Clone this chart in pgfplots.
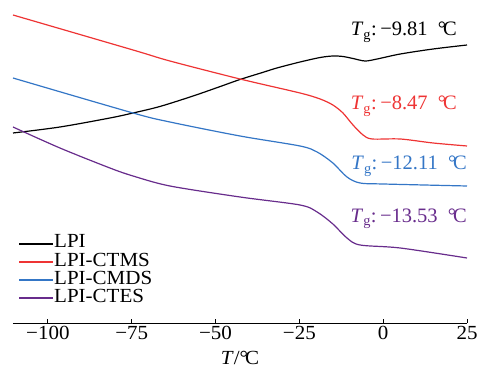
\documentclass[border=0pt]{standalone}
\usepackage{fontspec}
\setmainfont[FakeStretch=1.05]{Liberation Serif}
\newfontfamily\annfont{Liberation Serif}
\usepackage{pgfplots}
\pgfplotsset{compat=1.18}
\newcommand{\degC}{\textdegree\kern-0.15em C}
\definecolor{cred}{RGB}{238,52,52}
\definecolor{cblue}{RGB}{52,118,198}
\definecolor{cpurple}{RGB}{104,44,140}
\newcommand{\tg}[1]{\textit{T}\textsubscript{g}:\,#1\enspace\degC}
\tikzset{ann/.style={anchor=base east, inner sep=0pt, font=\annfont\fontsize{20.5bp}{22bp}\selectfont}}
\begin{document}
\begin{tikzpicture}
\begin{axis}[
  name=ax,
  scale only axis, width=454bp, height=323bp,
  xmin=-110.4, xmax=25, ymin=0, ymax=323,
  axis x line*=bottom, axis y line=none,
  xtick={-100,-75,-50,-25,0,25},
  xticklabels={−100,−75,−50,−25,0,25},
  tick align=inside, major tick length=4bp,
  tick style={line width=0.8bp, black},
  axis line style={line width=0.8bp, black},
  ticklabel style={font=\fontsize{20bp}{20bp}\selectfont},
  xlabel={\textit{T}/\degC},
  xlabel style={font=\fontsize{20bp}{20bp}\selectfont, yshift=-4bp},
  legend cell align=left,
  legend style={draw=none, fill=none, at={(0.011,0.275)}, anchor=north west,
    inner sep=0pt, font=\fontsize{20bp}{20bp}\selectfont,
    nodes={inner sep=0pt, text height=13.5bp, text depth=4.8bp},
    /tikz/every even column/.append style={column sep=0pt}},
  legend image code/.code={\draw[#1, line width=2bp] (0bp,0bp) -- (34bp,0bp);},
  every axis plot/.append style={line width=1.2bp, smooth, tension=0.5},
]
\addplot[black] coordinates {(-110.4,190) (-96.4,196) (-81.5,205) (-74.6,210) (-66.6,216.5) (-56.7,227) (-49,236) (-42.7,243.5) (-36,250.5) (-31.7,255) (-24.8,261) (-18.8,265.5) (-15.0,267) (-12.0,266.5) (-9.0,264.5) (-5.4,262) (-1.8,264) (5.1,269) (14.9,274) (25,278)};
\addlegendentry{LPI}
\addplot[cred] coordinates {(-110.4,308) (-74.6,273) (-63.6,262) (-42.7,244) (-24.8,230) (-18.8,224) (-15.0,218) (-12.0,210) (-9.0,198) (-6.0,188) (-3.3,184) (5.1,184) (14.9,180) (25,177)};
\addlegendentry{LPI-CTMS}
\addplot[cblue] coordinates {(-110.4,245) (-74.6,210) (-63.6,201) (-42.7,187) (-24.8,177) (-19.7,171) (-15.0,160) (-10.8,146) (-6.9,140) (0,139) (25,137)};
\addlegendentry{LPI-CMDS}
\addplot[cpurple] coordinates {(-110.4,196) (-96.4,175) (-81.5,155) (-74.6,147) (-63.6,137) (-42.7,126) (-24.8,118) (-19.7,111) (-15.0,99) (-10.8,85) (-6.9,78) (5.1,75) (25,65)};
\addlegendentry{LPI-CTES}
\node[ann, text=black] at (axis cs:22,287) {\tg{−9.81}};
\node[ann, text=cred] at (axis cs:22,213) {\tg{−8.47}};
\node[ann, text=cblue] at (axis cs:25,153) {\tg{−12.11}};
\node[ann, text=cpurple] at (axis cs:25,100.5) {\tg{−13.53}};
\end{axis}
\pgfresetboundingbox
\useasboundingbox ([shift={(-13bp,-46bp)}]ax.south west) rectangle ([shift={(11bp,0bp)}]ax.north east);
\end{tikzpicture}
\end{document}
